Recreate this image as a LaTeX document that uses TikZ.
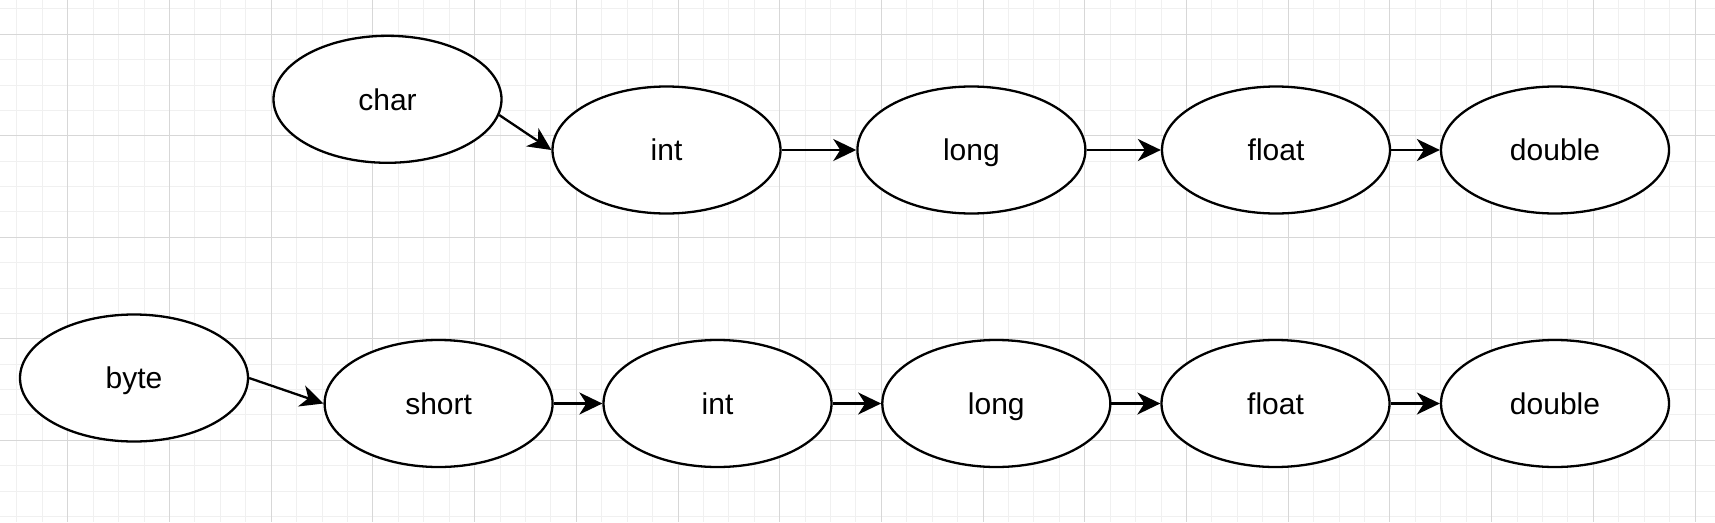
\documentclass[tikz,border=0pt]{standalone}
\usepackage{fontspec}
\setmainfont{Liberation Sans}
\usetikzlibrary{arrows.meta,shapes.geometric}
\definecolor{gridmajor}{RGB}{215,215,215}
\definecolor{gridminor}{RGB}{240,240,240}
\begin{document}
\begin{tikzpicture}[x=1pt,y=-1pt,
  typebox/.style={ellipse,draw=black,line width=2.3pt,fill=white,
    minimum width=228pt,minimum height=127pt,inner sep=0pt,
    text height=21.4pt,text depth=0pt,
    font=\fontsize{30}{36}\selectfont},
  conn/.style={line width=2.3pt,-{Stealth[length=23pt,width=22pt,inset=7pt]}}]
\useasboundingbox (0,0) rectangle (1715,522);
\fill[white] (0,0) rectangle (1715,522);
% minor grid
\foreach \i in {-2,...,65} {
  \draw[gridminor,line width=1pt] ({67.8+25.425*\i},0) -- ({67.8+25.425*\i},522);
}
\foreach \j in {-1,...,19} {
  \draw[gridminor,line width=1pt] (0,{34.3+25.375*\j}) -- (1715,{34.3+25.375*\j});
}
% major grid
\foreach \i in {0,...,16} {
  \draw[gridmajor,line width=1pt] ({67.8+101.7*\i},0) -- ({67.8+101.7*\i},522);
}
\foreach \j in {0,...,4} {
  \draw[gridmajor,line width=1pt] (0,{34.3+101.5*\j}) -- (1715,{34.3+101.5*\j});
}
% top row
\node[typebox] (char) at (387.5,99.3) {char};
\node[typebox] (int1) at (666.5,150) {int};
\node[typebox] (long1) at (971.4,150) {long};
\node[typebox] (float1) at (1276,150) {float};
\node[typebox] (double1) at (1555,150) {double};
% bottom row
\node[typebox] (byte) at (134,378) {byte};
\node[typebox] (short) at (438.6,403.5) {short};
\node[typebox] (int2) at (717.5,403.5) {int};
\node[typebox] (long2) at (996.3,403.5) {long};
\node[typebox] (float2) at (1275.5,403.5) {float};
\node[typebox] (double2) at (1555,403.5) {double};
% connectors
\draw[conn] (char.-8) -- (int1.west);
\draw[conn] (int1.east) -- (long1.west);
\draw[conn] (long1.east) -- (float1.west);
\draw[conn] (float1.east) -- (double1.west);
\draw[conn] (byte.east) -- (short.west);
\draw[conn] (short.east) -- (int2.west);
\draw[conn] (int2.east) -- (long2.west);
\draw[conn] (long2.east) -- (float2.west);
\draw[conn] (float2.east) -- (double2.west);
\end{tikzpicture}
\end{document}
